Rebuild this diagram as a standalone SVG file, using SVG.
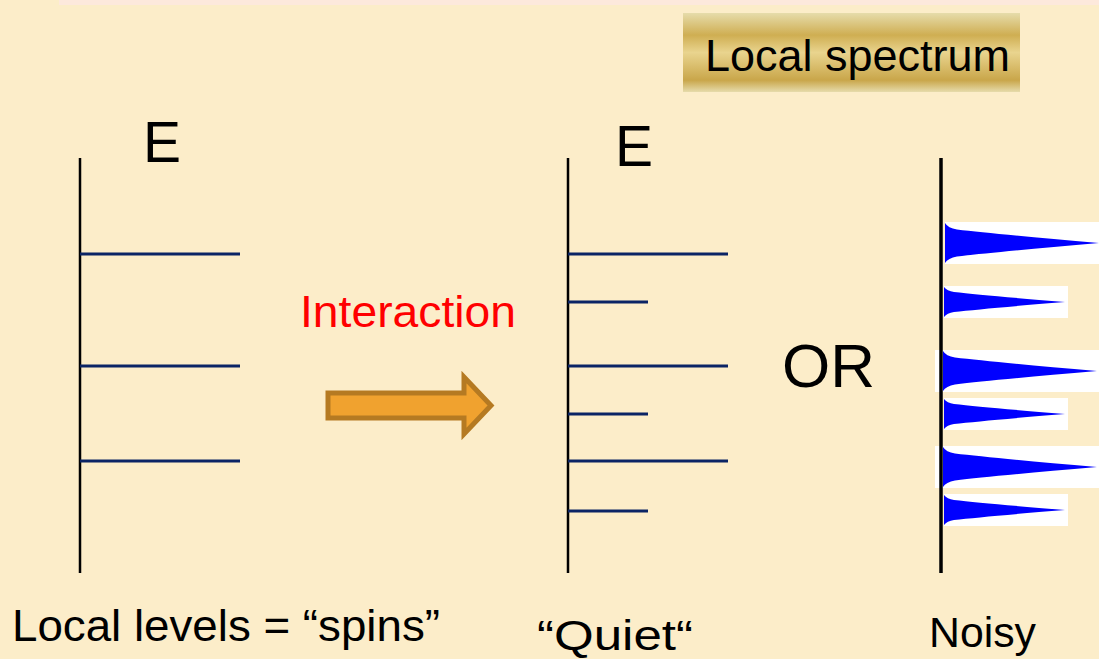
<svg xmlns="http://www.w3.org/2000/svg" width="1099" height="659" viewBox="0 0 1099 659">
<defs>
<linearGradient id="gold" x1="0" y1="0" x2="0" y2="1">
<stop offset="0" stop-color="#e6dcab"/>
<stop offset="0.28" stop-color="#cfae52"/>
<stop offset="0.5" stop-color="#e9d48e"/>
<stop offset="0.85" stop-color="#c9a64a"/>
<stop offset="1" stop-color="#e6dbab"/>
</linearGradient>
<path id="bigpk" d="M0,0 Q3,5 12,6.5 Q50,11 154,20 Q50,29 12,33.5 Q3,35 0,40 Z"/>
<path id="smpk" d="M0,0 Q3,4 10,5 Q40,8.5 121,15 Q40,21.5 10,25 Q3,26 0,30 Z"/>
</defs>
<style>
.txt{font-family:"Liberation Sans",Arial,sans-serif;fill:#000}
.axis{stroke:#000;stroke-width:2.5;fill:none}
.lvl{stroke:#0b2465;stroke-width:3.2;fill:none}
.pk{fill:#0000ff}
.pkbg{fill:#fff}
</style>
<rect x="0" y="0" width="1099" height="659" fill="#fcedc9"/>
<rect x="59" y="0" width="1040" height="5" fill="#fde9dc"/>

<g id="local-spectrum-label">
<rect x="683" y="13" width="337" height="79" fill="url(#gold)"/>
<text class="txt" x="705" y="71" font-size="44" textLength="305" lengthAdjust="spacingAndGlyphs">Local spectrum</text>
</g>

<g id="local-levels">
<text class="txt" x="143" y="162" font-size="57">E</text>
<line class="axis" x1="80" y1="158" x2="80" y2="573"/>
<line class="lvl" x1="80" y1="254" x2="240" y2="254"/>
<line class="lvl" x1="80" y1="366" x2="240" y2="366"/>
<line class="lvl" x1="80" y1="461" x2="240" y2="461"/>
<text class="txt" x="12" y="641" font-size="44" textLength="428" lengthAdjust="spacingAndGlyphs">Local levels = “spins”</text>
</g>

<g id="interaction">
<text x="300" y="327" font-size="44" font-family="'Liberation Sans',Arial,sans-serif" fill="#ff0000" textLength="216" lengthAdjust="spacingAndGlyphs">Interaction</text>
<path d="M328,393 L464,393 L464,377 L491,405.5 L464,434 L464,418 L328,418 Z" fill="#f0a22f" stroke="#b57a22" stroke-width="5"/>
</g>

<g id="quiet">
<text class="txt" x="615" y="166" font-size="57">E</text>
<line class="axis" x1="568" y1="158" x2="568" y2="573"/>
<line class="lvl" x1="568" y1="254" x2="728" y2="254"/>
<line class="lvl" x1="568" y1="302" x2="648" y2="302"/>
<line class="lvl" x1="568" y1="366" x2="728" y2="366"/>
<line class="lvl" x1="568" y1="414" x2="648" y2="414"/>
<line class="lvl" x1="568" y1="461" x2="728" y2="461"/>
<line class="lvl" x1="568" y1="511" x2="648" y2="511"/>
<text class="txt" x="537" y="650" font-size="42" textLength="156" lengthAdjust="spacingAndGlyphs">“Quiet“</text>
</g>

<g id="or">
<text class="txt" x="782" y="387" font-size="62">OR</text>
</g>

<g id="noisy">
<rect class="pkbg" x="945" y="222" width="154" height="42"/>
<rect class="pkbg" x="944" y="286" width="124" height="32"/>
<rect class="pkbg" x="935" y="350" width="164" height="42"/>
<rect class="pkbg" x="944" y="398" width="124" height="32"/>
<rect class="pkbg" x="935" y="446" width="164" height="42"/>
<rect class="pkbg" x="944" y="494" width="124" height="32"/>
<line x1="941" y1="158" x2="941" y2="573" stroke="#000" stroke-width="3.5"/>
<use href="#bigpk" class="pk" x="945" y="223"/>
<use href="#smpk" class="pk" x="944" y="287"/>
<use href="#bigpk" class="pk" x="943" y="351"/>
<use href="#smpk" class="pk" x="944" y="399"/>
<use href="#bigpk" class="pk" x="943" y="447"/>
<use href="#smpk" class="pk" x="944" y="495"/>
<text class="txt" x="929" y="647" font-size="42" textLength="107" lengthAdjust="spacingAndGlyphs">Noisy</text>
</g>
</svg>
